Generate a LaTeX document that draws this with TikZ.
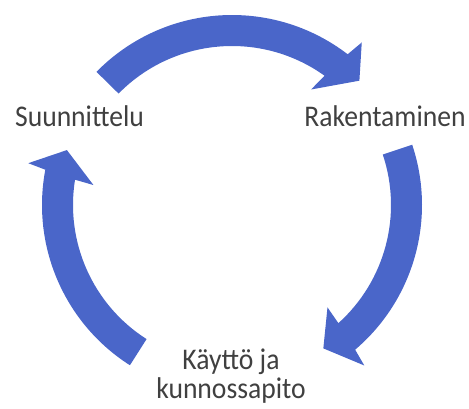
\documentclass[tikz,border=0pt]{standalone}
\usepackage{fontspec}
\setmainfont{Carlito}[FakeStretch=0.92]
\definecolor{arrowblue}{HTML}{4A66C9}
\definecolor{labelgray}{HTML}{404040}
\newcommand\cyclearrow[7]{%
  \fill[arrowblue] ([shift={(c)}]#1:190pt) arc[start angle=#1, end angle=#2, radius=190pt]
    -- ([shift={(c)}]#4:208pt) -- ([shift={(c)}]#6:#7pt) -- ([shift={(c)}]#5:140pt)
    -- ([shift={(c)}]#3:159pt) arc[start angle=#3, end angle=#1, radius=159pt] -- cycle;}
\begin{document}
\begin{tikzpicture}[x=1pt,y=1pt,
  lbl/.style={text=labelgray, font=\fontsize{30}{29}\selectfont, inner sep=0pt}]
\useasboundingbox (0,0) rectangle (469,408);
\coordinate (c) at (232,203);
% top arrow
\cyclearrow{135.5}{52.5}{54.4}{51.4}{55.6}{44.3}{178}
% right arrow
\cyclearrow{18.5}{-49.6}{-48.0}{-50.5}{-47.0}{-57.5}{170}
% left arrow
\cyclearrow{237.5}{169.3}{170.85}{168.4}{171.8}{161.6}{174}
\node[lbl, anchor=base] (plan) at (79.5,282) {Suunnittelu};
\node[lbl, anchor=base] (build) at (385,282) {Rakentaminen};
\node[lbl, anchor=base, align=center] (use) at (231,10) {Käyttö ja\\kunnossapito};
\end{tikzpicture}
\end{document}
